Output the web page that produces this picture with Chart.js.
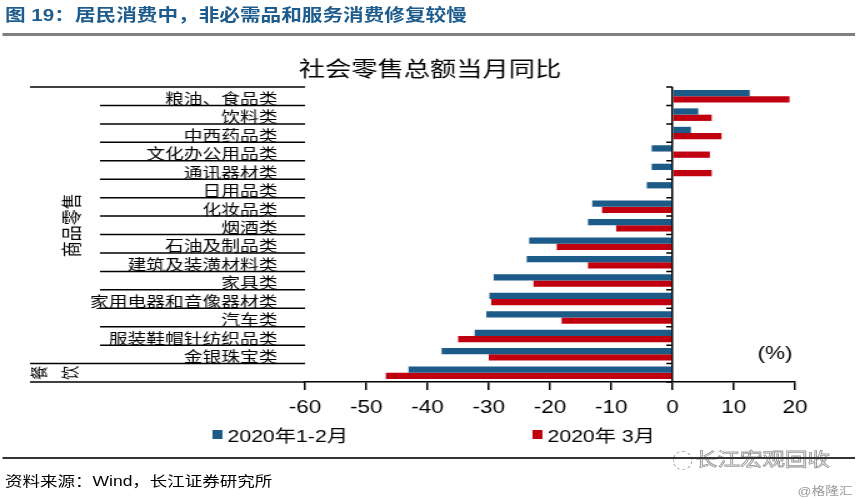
<!DOCTYPE html>
<html>
<head>
<meta charset="utf-8">
<script src="https://cdn.jsdelivr.net/npm/chart.js@4.4.0/dist/chart.umd.min.js"></script>
<style>
  html, body { margin: 0; padding: 0; background: #fff; overflow: hidden; }
  /* the source picture is stretched sideways, so the whole page is drawn narrow and widened */
  #page { position: absolute; left: 0; top: 0; width: 688px; height: 498px;
          transform: scaleX(1.25); transform-origin: 0 0;
          font-family: "Liberation Sans", "Noto Sans CJK SC", sans-serif; }
  #head { position: absolute; left: 4px; top: 5px; font-size: 16.5px; line-height: 20px;
          font-weight: bold; color: #1d5c8c; white-space: nowrap; }
  #headRule { position: absolute; left: 2px; top: 33px; width: 682px; height: 3px; background: #7f7f7f; }
  #chart { position: absolute; left: 0; top: 0; }
  #mark { position: absolute; left: 556px; top: 449px; font-size: 18px; line-height: 22px;
          color: #fff; -webkit-text-stroke: 0.8px #9a9a9a; white-space: nowrap; }
  #markIcon { position: absolute; left: 538px; top: 451px; width: 14px; height: 17px;
              border: 1px dashed #aaa; border-radius: 50%; }
  #mark2 { position: absolute; left: 638px; top: 484px; font-size: 11px; line-height: 14px;
           color: #999; white-space: nowrap; }
  #footRule { position: absolute; left: 2px; top: 457px; width: 682px; height: 2px; background: #333; }
  #source { position: absolute; left: 4px; top: 471px; font-size: 14px; line-height: 20px;
            color: #000; white-space: nowrap; }
</style>
</head>
<body>
<div id="page">
  <div id="head">图 19：居民消费中，非必需品和服务消费修复较慢</div>
  <div id="headRule"></div>
  <canvas id="chart" width="688" height="498"></canvas>
  <div id="mark">长江宏观回收</div>
  <div id="markIcon"></div>
  <div id="mark2">@格隆汇</div>
  <div id="footRule"></div>
  <div id="source">资料来源：Wind，长江证券研究所</div>
</div>
<script>
// Data
const categories = [
  "粮油、食品类", "饮料类", "中西药品类", "文化办公用品类", "通讯器材类",
  "日用品类", "化妆品类", "烟酒类", "石油及制品类", "建筑及装潢材料类",
  "家具类", "家用电器和音像器材类", "汽车类", "服装鞋帽针纺织品类", "金银珠宝类", ""
];
const groups = ["商品零售", "餐饮"];
const groupSizes = [15, 1];
const seriesNames = ["2020年1-2月", "2020年 3月"];
const janFeb = [12.6, 4.2, 3.0, -3.4, -3.4, -4.2, -13.1, -13.8, -23.4, -23.8, -29.2, -29.9, -30.4, -32.3, -37.7, -43.1];
const march = [19.1, 6.4, 8.0, 6.1, 6.4, 0, -11.5, -9.2, -18.9, -13.8, -22.7, -29.6, -18.1, -35.0, -30.0, -46.8];
const xMin = -60;
const xMax = 20;
const xStep = 10;
const chartTitle = "社会零售总额当月同比";
const unitLabel = "(%)";

const BLUE = "#1c5a87";
const RED = "#c0000e";
const CJK = '"Noto Sans CJK SC"';
const LAT = '"Liberation Sans", "Noto Sans CJK SC"';

// group lines, rotated group names, zero-line ticks, unit and legend
const axisDecor = {
  id: "axisDecor",
  afterDraw(chart) {
    const { ctx, chartArea, scales } = chart;
    const { left, top, bottom } = chartArea;
    const n = chart.data.labels.length;
    const step = (bottom - top) / n;
    const zeroX = scales.x.getPixelForValue(0);

    const edges = [0];
    groupSizes.reduce((s, k) => { edges.push(s + k); return s + k; }, 0);

    ctx.save();
    ctx.strokeStyle = "#000";
    ctx.lineWidth = 1.5;
    for (let i = 0; i <= n; i++) {
      const yy = top + i * step;
      const fromX = edges.includes(i) ? 24 : 80;
      ctx.beginPath();
      ctx.moveTo(fromX, yy);
      ctx.lineTo(left, yy);
      ctx.moveTo(zeroX - 5, yy);
      ctx.lineTo(zeroX, yy);
      ctx.stroke();
    }

    ctx.fillStyle = "#000";
    ctx.textAlign = "center";
    ctx.textBaseline = "middle";
    groups.forEach((g, gi) => {
      const cy = top + (edges[gi] + edges[gi + 1]) / 2 * step;
      if (groupSizes[gi] > 1) {
        ctx.font = "16px " + CJK;
        ctx.save();
        ctx.translate(57, cy);
        ctx.rotate(-Math.PI / 2);
        ctx.fillText(g, 0, 0);
        ctx.restore();
      } else {
        ctx.font = "14px " + CJK;
        [...g].forEach((ch, k) => {
          ctx.save();
          ctx.translate(31 + k * 25, cy);
          ctx.rotate(-Math.PI / 2);
          ctx.fillText(ch, 0, 0);
          ctx.restore();
        });
      }
    });

    ctx.font = "18px " + LAT;
    ctx.fillText(unitLabel, 620, 354);

    const legendX = [170, 426];
    ctx.textAlign = "left";
    ctx.font = "17px " + LAT;
    chart.data.datasets.forEach((ds, i) => {
      ctx.fillStyle = ds.backgroundColor;
      ctx.fillRect(legendX[i], 430, 8, 9);
      ctx.fillStyle = "#000";
      ctx.fillText(ds.label, legendX[i] + 12, 437);
    });
    ctx.restore();
  }
};

new Chart(document.getElementById("chart"), {
  type: "bar",
  data: {
    labels: categories,
    datasets: [
      { label: seriesNames[0], data: janFeb, backgroundColor: BLUE, borderWidth: 0 },
      { label: seriesNames[1], data: march, backgroundColor: RED, borderWidth: 0 }
    ]
  },
  options: {
    indexAxis: "y",
    responsive: false,
    animation: false,
    layout: { padding: 0 },
    datasets: { bar: { categoryPercentage: 0.68, barPercentage: 1.0 } },
    plugins: {
      legend: { display: false },
      tooltip: { enabled: false },
      title: {
        display: true,
        text: chartTitle,
        color: "#000",
        font: { family: CJK, size: 21, weight: "normal" },
        padding: { top: 55, bottom: 6.8 }
      }
    },
    scales: {
      x: {
        min: xMin,
        max: xMax,
        afterFit: (s) => { s.height = 116; },
        ticks: {
          stepSize: xStep,
          color: "#000",
          padding: 7,
          font: { family: LAT, size: 18 }
        },
        grid: {
          drawOnChartArea: true,
          color: (c) => (c.tick && c.tick.value === 0 ? "#000" : "rgba(0,0,0,0)"),
          tickColor: "#000",
          tickLength: 8,
          lineWidth: 1.5
        },
        border: { display: true, color: "#000", width: 1.5 }
      },
      y: {
        afterFit: (s) => { s.width = 244; },
        ticks: {
          color: "#000",
          padding: 14,
          labelOffset: 2,
          autoSkip: false,
          font: { family: CJK, size: 15 }
        },
        grid: { display: false },
        border: { display: false }
      },
      // empty right-hand axis that only keeps room beside the plot, so the title stays centred on the page
      spacer: {
        type: "linear",
        axis: "y",
        position: "right",
        ticks: { display: false },
        grid: { display: false },
        border: { display: false },
        afterFit: (s) => { s.width = 52; }
      }
    }
  },
  plugins: [axisDecor]
});
</script>
</body>
</html>
